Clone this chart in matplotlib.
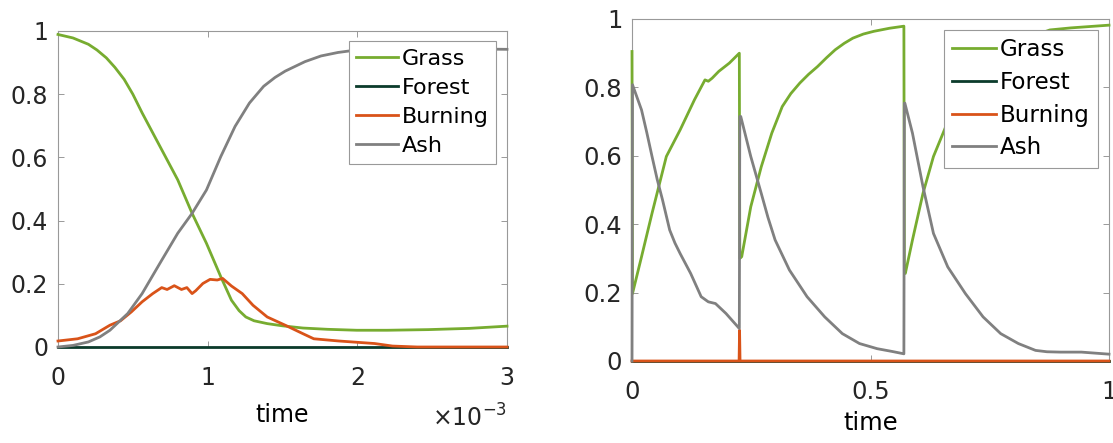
import matplotlib
matplotlib.use("Agg")
import matplotlib.pyplot as plt
import numpy as np
from matplotlib.ticker import FuncFormatter

# ---------------- data: left panel (time in units of 1e-3) ----------------
left_grass_t = [0, 0.1, 0.203, 0.26, 0.323, 0.38, 0.442, 0.5, 0.562, 0.681, 0.80, 0.896,
                0.992, 1.088, 1.159, 1.21, 1.255, 1.31, 1.398, 1.5, 1.637, 1.8, 1.996,
                2.2, 2.474, 2.75, 3.0]
left_grass_v = [0.989, 0.978, 0.958, 0.94, 0.915, 0.885, 0.847, 0.80, 0.741, 0.635, 0.529,
                0.423, 0.328, 0.222, 0.148, 0.115, 0.095, 0.083, 0.074, 0.067, 0.060,
                0.056, 0.053, 0.053, 0.055, 0.059, 0.066]

left_forest_t = [0, 3.0]
left_forest_v = [0, 0]

left_burn_t = [0, 0.131, 0.251, 0.347, 0.418, 0.49, 0.562, 0.633, 0.693, 0.729, 0.777,
               0.825, 0.861, 0.896, 0.92, 0.968, 1.016, 1.064, 1.10, 1.159, 1.231,
               1.303, 1.398, 1.518, 1.637, 1.709, 1.876, 2.115, 2.235, 2.4, 3.0]
left_burn_v = [0.019, 0.026, 0.042, 0.069, 0.083, 0.111, 0.143, 0.169, 0.188, 0.182,
               0.194, 0.182, 0.188, 0.169, 0.178, 0.201, 0.214, 0.212, 0.217, 0.193,
               0.169, 0.132, 0.095, 0.069, 0.042, 0.026, 0.019, 0.011, 0.003, 0.0, 0.0]

left_ash_t = [0, 0.1, 0.203, 0.28, 0.347, 0.466, 0.562, 0.681, 0.80, 0.896, 0.992, 1.088,
              1.183, 1.279, 1.374, 1.45, 1.518, 1.65, 1.757, 1.87, 1.996, 2.235, 2.6, 3.0]
left_ash_v = [0, 0.005, 0.016, 0.032, 0.053, 0.106, 0.169, 0.265, 0.36, 0.423, 0.497,
              0.603, 0.698, 0.772, 0.825, 0.853, 0.873, 0.903, 0.921, 0.932, 0.940, 0.945,
              0.944, 0.942]

# ---------------- data: right panel ----------------
right_grass_t = [0, 0.001, 0.02, 0.042, 0.072, 0.101, 0.131, 0.153, 0.160, 0.168, 0.182,
                 0.204, 0.225, 0.226, 0.23, 0.249, 0.271, 0.293, 0.315, 0.333, 0.352,
                 0.37, 0.389, 0.408, 0.426, 0.445, 0.463, 0.485, 0.507, 0.54, 0.570,
                 0.571, 0.573, 0.588, 0.61, 0.632, 0.655, 0.669, 0.685, 0.70, 0.725,
                 0.75, 0.775, 0.80, 0.825, 0.85, 0.876, 0.92, 0.96, 1.0]
right_grass_v = [0.905, 0.197, 0.305, 0.432, 0.598, 0.676, 0.764, 0.822, 0.818, 0.827,
                 0.847, 0.871, 0.900, 0.300, 0.305, 0.451, 0.568, 0.666, 0.744, 0.782,
                 0.813, 0.838, 0.861, 0.887, 0.910, 0.929, 0.944, 0.956, 0.964, 0.973,
                 0.979, 0.262, 0.256, 0.354, 0.49, 0.598, 0.676, 0.725, 0.757, 0.79,
                 0.833, 0.87, 0.9, 0.925, 0.942, 0.955, 0.968, 0.974, 0.978, 0.982]

right_forest_t = [0, 1.0]
right_forest_v = [0, 0]

right_burn_t = [0, 0.2245, 0.2255, 0.2265, 1.0]
right_burn_v = [0, 0, 0.09, 0, 0]

right_ash_t = [0, 0.001, 0.02, 0.031, 0.042, 0.053, 0.064, 0.079, 0.09, 0.101, 0.123,
               0.145, 0.16, 0.175, 0.197, 0.225, 0.226, 0.228, 0.249, 0.271, 0.285, 0.30,
               0.33, 0.367, 0.404, 0.441, 0.477, 0.514, 0.545, 0.570, 0.571, 0.572,
               0.588, 0.61, 0.632, 0.662, 0.699, 0.736, 0.773, 0.81, 0.846, 0.87,
               0.898, 0.942, 1.0]
right_ash_v = [0, 0.808, 0.734, 0.668, 0.598, 0.53, 0.471, 0.383, 0.345, 0.314, 0.256,
               0.188, 0.173, 0.168, 0.139, 0.095, 0.715, 0.715, 0.598, 0.49, 0.42, 0.354,
               0.266, 0.188, 0.129, 0.08, 0.051, 0.036, 0.028, 0.021, 0.754, 0.754,
               0.666, 0.51, 0.373, 0.275, 0.197, 0.129, 0.08, 0.051, 0.031, 0.027,
               0.026, 0.026, 0.02]

labels = ["Grass", "Forest", "Burning", "Ash"]
colors = ["#77AC30", "#0B3B2B", "#D95319", "#808080"]
yticks = [0, 0.2, 0.4, 0.6, 0.8, 1]

W, H = 1113, 443
fig = plt.figure(figsize=(W / 100, H / 100), dpi=100)
plt.rcParams['font.family'] = ['DejaVu Sans']

def px_axes(l, r, t, b):
    return fig.add_axes([l / W, (H - b) / H, (r - l) / W, (b - t) / H])

ax1 = px_axes(58, 507, 31, 347)
ax2 = px_axes(632, 1109, 19, 361)

fmt = FuncFormatter(lambda v, p: "%g" % v)

def style(ax, fs):
    for s in ax.spines.values():
        s.set_color("#999999")
        s.set_linewidth(0.8)
        s.set_zorder(0.5)
    ax.tick_params(direction="in", length=4, width=0.7, color="#999999",
                   top=True, right=True, labelsize=fs, labelcolor="#262626")
    ax.tick_params(axis="x", pad=13.5)
    ax.tick_params(axis="y", pad=7)
    ax.set_ylim(0, 1)
    ax.set_yticks(yticks)
    ax.yaxis.set_major_formatter(fmt)

# left
sc = 1e-3
series_left = [(left_grass_t, left_grass_v), (left_forest_t, left_forest_v),
               (left_burn_t, left_burn_v), (left_ash_t, left_ash_v)]
for (t, v), c, lab in zip(series_left, colors, labels):
    ax1.plot(np.array(t) * sc, v, color=c, lw=2, label=lab, clip_on=False)
ax1.set_xlim(0, 3e-3)
ax1.set_xticks([0, 1e-3, 2e-3, 3e-3])
ax1.xaxis.set_major_formatter(FuncFormatter(lambda v, p: "%g" % round(v / sc, 6)))
style(ax1, 17)
ax1.set_xlabel("time", fontsize=17)
ax1.xaxis.label.set_va("baseline")
ax1.xaxis.set_label_coords(0.5, -(422 - 347) / 316)
leg1 = ax1.legend(loc="upper right", bbox_to_anchor=(0.9755, 0.968), borderaxespad=0,
                  fontsize=16, fancybox=False, framealpha=1, edgecolor="#999999",
                  handlelength=1.85, handletextpad=0.18, labelspacing=0.41, borderpad=0.34)
leg1.get_frame().set_linewidth(0.8)
fig.text(507 / W, (H - 427) / H, r"$\times10^{-3}$", ha="right", va="baseline",
         fontsize=17, color="#262626")

# right
series_right = [(right_grass_t, right_grass_v), (right_forest_t, right_forest_v),
                (right_burn_t, right_burn_v), (right_ash_t, right_ash_v)]
for (t, v), c, lab in zip(series_right, colors, labels):
    ax2.plot(t, v, color=c, lw=2, label=lab, clip_on=False)
ax2.set_xlim(0, 1)
ax2.set_xticks([0, 0.5, 1])
ax2.xaxis.set_major_formatter(fmt)
style(ax2, 17.5)
ax2.set_xlabel("time", fontsize=17.5)
ax2.xaxis.label.set_va("baseline")
ax2.xaxis.set_label_coords(0.5, -(430 - 361) / 342)
leg2 = ax2.legend(loc="upper right", bbox_to_anchor=(0.977, 0.968), borderaxespad=0,
                  fontsize=16.6, fancybox=False, framealpha=1, edgecolor="#999999",
                  handlelength=1.87, handletextpad=0.18, labelspacing=0.42, borderpad=0.365)
leg2.get_frame().set_linewidth(0.8)

fig.savefig("out.png", dpi=100)
